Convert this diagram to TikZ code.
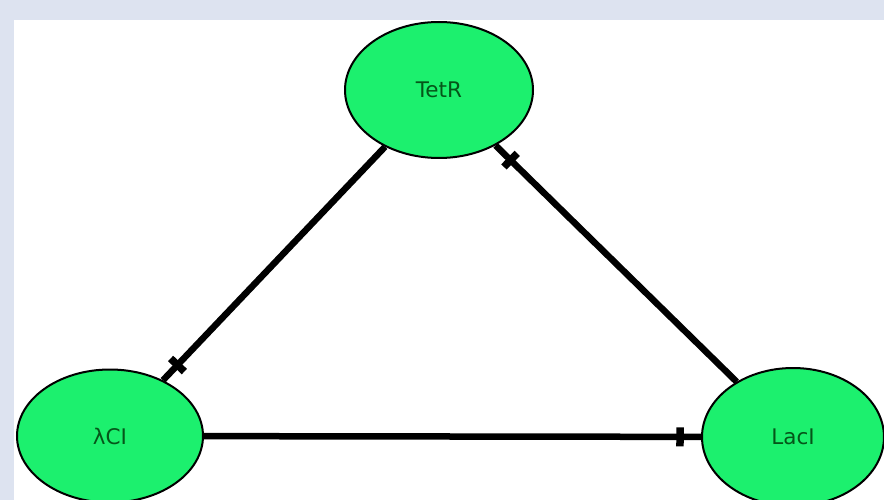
\documentclass[tikz,border=0pt]{standalone}
\usepackage{fontspec}
\usetikzlibrary{shapes.geometric,decorations.markings}
\newfontfamily\labfont{DejaVu Sans}
\definecolor{bgc}{RGB}{221,227,240}
\definecolor{nodegreen}{RGB}{28,240,110}
\definecolor{textgreen}{RGB}{5,85,25}
\begin{document}
\begin{tikzpicture}[x=1pt,y=-1pt,
  gene/.style={ellipse,draw=black,line width=2pt,fill=nodegreen,inner sep=0pt,
    text=textgreen,font=\labfont\fontsize{21.5}{25}\selectfont},
  rep/.style={line width=6.5pt,draw=black,
    postaction={decorate,decoration={markings,
      mark=at position -21pt with {\draw[line width=7.5pt,line cap=butt] (0pt,-9.5pt) -- (0pt,9.5pt);}}}}
  ]
  \useasboundingbox (0,0) rectangle (884,500);
  \fill[bgc] (0,0) rectangle (884,500);
  \fill[white] (14,20) rectangle (884,500);
  \node[gene,minimum width=188pt,minimum height=136pt] (tetr) at (439,90) {TetR};
  \node[gene,minimum width=186pt,minimum height=133pt] (lci) at (110,436) {λCI};
  \node[gene,minimum width=182pt,minimum height=138pt] (laci) at (793,437) {LacI};
  \draw[rep] (tetr) -- (lci);
  \draw[rep] (laci) -- (tetr);
  \draw[rep] (lci) -- (laci);
\end{tikzpicture}
\end{document}
